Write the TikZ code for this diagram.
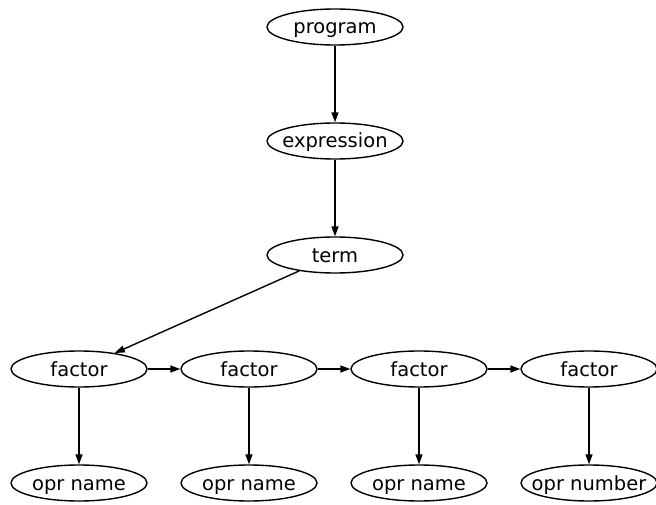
\documentclass[tikz,border=0pt]{standalone}
\usepackage{fontspec}
\setmainfont{DejaVu Sans}
\usepackage{tikz}
\usetikzlibrary{arrows.meta,shapes.geometric}

\begin{document}
\begin{tikzpicture}[x=1pt,y=-1pt,
  tok/.style={draw,ellipse,line width=1.4pt,minimum width=136pt,minimum height=36pt,
    inner xsep=-14pt,inner ysep=0pt,text height=17pt,text depth=3pt,
    font=\fontsize{19.5}{23}\selectfont},
  arr/.style={-{Triangle[length=10pt,width=7pt]},line width=1.4pt}]
\useasboundingbox (0,0) rectangle (656,505);

% Chain down to term
\node[tok] (prog) at (335,27) {program};
\node[tok] (expr) at (335,141) {expression};
\node[tok] (term) at (335,255) {term};

% Factors
\node[tok] (f1) at (79,369) {factor};
\node[tok] (f2) at (249,369) {factor};
\node[tok] (f3) at (419,369) {factor};
\node[tok] (f4) at (589,369) {factor};

% Operands
\node[tok] (o1) at (79,483) {opr name};
\node[tok] (o2) at (249,483) {opr name};
\node[tok] (o3) at (419,483) {opr name};
\node[tok] (o4) at (589,483) {opr number};

\draw[arr] (prog) -- (expr);
\draw[arr] (expr) -- (term);
\draw[arr] (term) -- (f1);
\draw[arr] (f1) -- (f2);
\draw[arr] (f2) -- (f3);
\draw[arr] (f3) -- (f4);
\foreach \i in {1,...,4}
  \draw[arr] (f\i) -- (o\i);
\end{tikzpicture}
\end{document}
